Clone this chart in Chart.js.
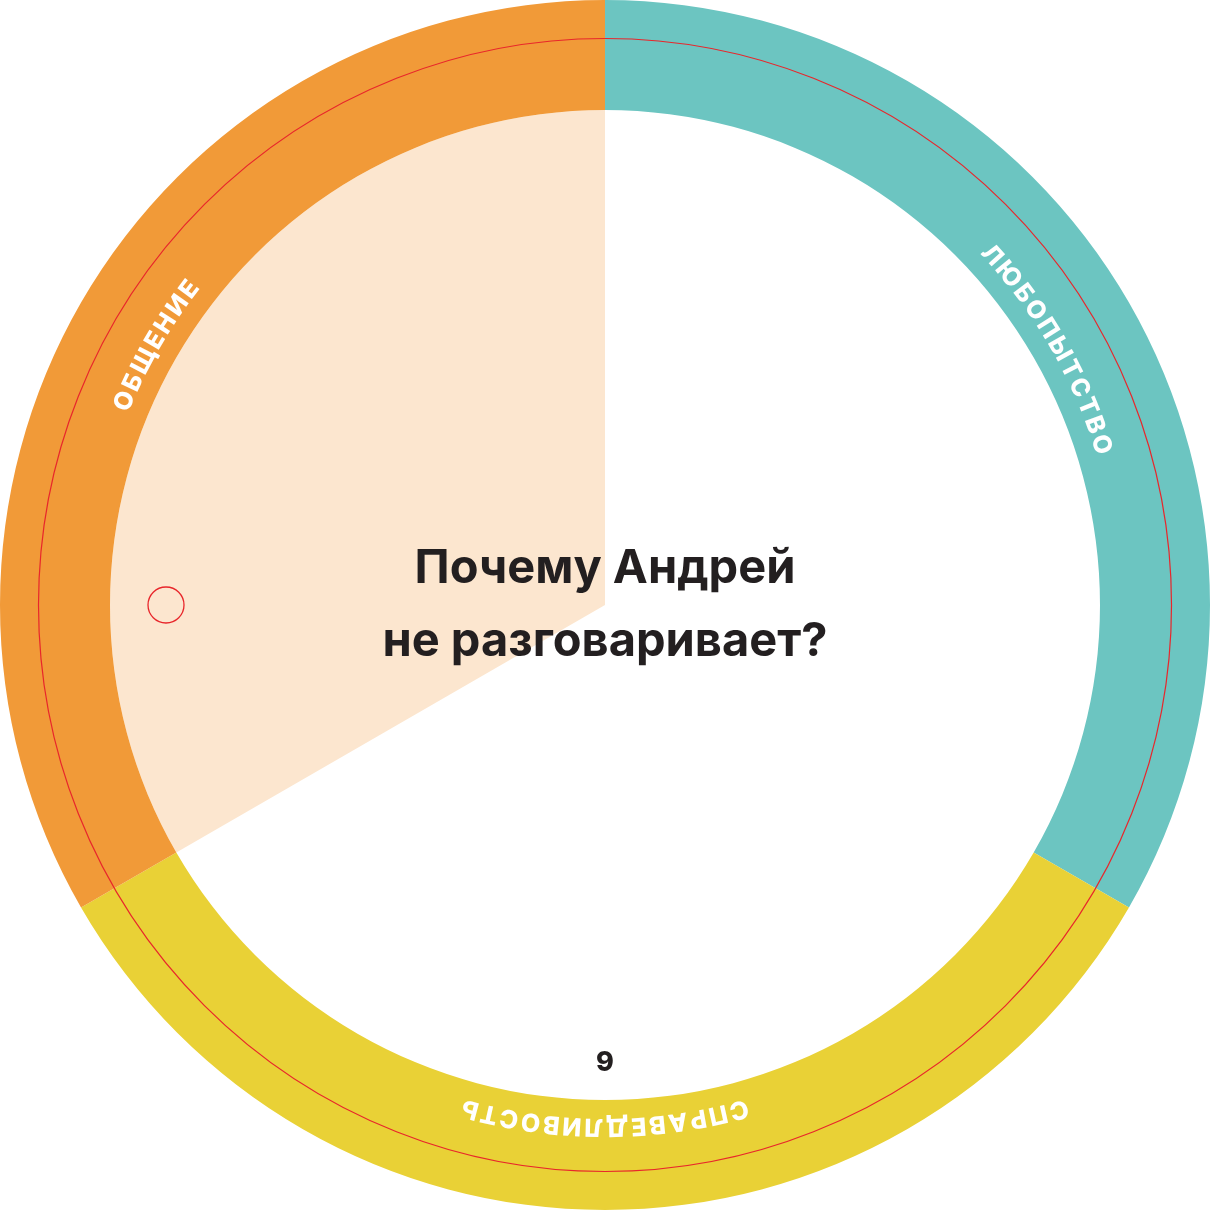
<!DOCTYPE html>
<html>
<head>
<meta charset="utf-8">
<script src="https://cdn.jsdelivr.net/npm/chart.js@4"></script>
<style>
  html, body { margin: 0; padding: 0; background: #fff; }
  #wrap { width: 1210px; height: 1210px; }
</style>
</head>
<body>
<div id="wrap"><canvas id="myChart" width="1210" height="1210"></canvas></div>
<script>
const categories = ["ЛЮБОПЫТСТВО", "СПРАВЕДЛИВОСТЬ", "ОБЩЕНИЕ"];
const ringValues = [1, 1, 1];
const innerValues = [1, 1, 1];
const ringColors = ["#6cc5c1", "#e9d136", "#f19a38"];
const innerColors = ["#ffffff", "#ffffff", "#fce6cf"];
const titleLines = ["Почему Андрей", "не разговаривает?"];
const pageNumber = "9";

const FONT = "Inter, 'Noto Sans', sans-serif";

// text bent along the ring, read clockwise, tops outward
function drawArcText(ctx, text, cx, cy, r, midAngle, spacing) {
    const widths = [...text].map(ch => ctx.measureText(ch).width + spacing);
    const total = widths.reduce((a, b) => a + b, 0) - spacing;
    let a = midAngle - total / 2 / r;
    [...text].forEach((ch, i) => {
        const w = widths[i] - spacing;
        const ca = a + w / 2 / r;
        ctx.save();
        ctx.translate(cx + r * Math.cos(ca), cy + r * Math.sin(ca));
        ctx.rotate(ca + Math.PI / 2);
        ctx.fillText(ch, 0, 0);
        ctx.restore();
        a += widths[i] / r;
    });
}

const decorations = {
    id: "decorations",
    afterDatasetsDraw(chart) {
        const ctx = chart.ctx;
        const arcs = chart.getDatasetMeta(0).data;
        const cx = arcs[0].x, cy = arcs[0].y;
        const R = arcs[0].outerRadius;

        ctx.save();
        // thin red guide circle
        ctx.strokeStyle = "#e8262b";
        ctx.lineWidth = 1.2;
        ctx.beginPath();
        ctx.arc(cx, cy, R - 38.5, 0, Math.PI * 2);
        ctx.stroke();

        // small red marker
        ctx.lineWidth = 1.3;
        ctx.beginPath();
        ctx.arc(cx - 439, cy, 18, 0, Math.PI * 2);
        ctx.stroke();

        // ring labels
        ctx.fillStyle = "#ffffff";
        ctx.font = "800 25px " + FONT;
        ctx.textAlign = "center";
        ctx.textBaseline = "alphabetic";
        arcs.forEach((arc, i) => {
            const mid = (arc.startAngle + arc.endAngle) / 2;
            drawArcText(ctx, categories[i], cx, cy, arc.innerRadius + 19, mid, 2.5);
        });

        // centre title
        ctx.fillStyle = "#231f20";
        ctx.font = "700 47px " + FONT;
        ctx.fillText(titleLines[0], cx, cy - 22);
        ctx.fillText(titleLines[1], cx, cy + 51);

        ctx.font = "800 27px " + FONT;
        ctx.textBaseline = "middle";
        ctx.fillText(pageNumber, cx, cy + 458);
        ctx.restore();
    }
};

new Chart(document.getElementById("myChart"), {
    type: 'doughnut',
    data: {
        labels: categories,
        datasets: [
            {
                data: ringValues,
                backgroundColor: ringColors,
                borderWidth: 0,
                weight: 110
            },
            {
                data: innerValues,
                backgroundColor: innerColors,
                borderWidth: 0,
                weight: 495
            }
        ]
    },
    options: {
        responsive: false,
        animation: false,
        events: [],
        cutout: 0,
        layout: { padding: 0 },
        plugins: {
            legend: { display: false },
            tooltip: { enabled: false }
        }
    },
    plugins: [decorations]
});
</script>
</body>
</html>
